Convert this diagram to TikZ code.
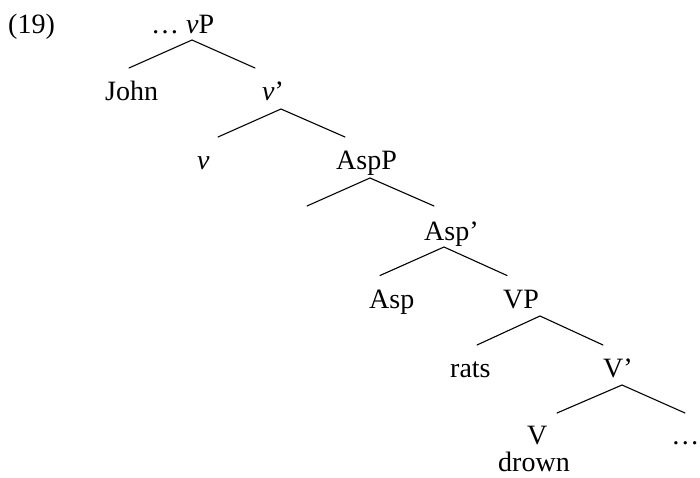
\documentclass[tikz,border=0pt]{standalone}
\usepackage{fontspec}
\setmainfont{Liberation Serif}
\begin{document}
\begin{tikzpicture}[x=1pt,y=-1pt,
  lbl/.style={inner sep=0pt,anchor=base west,font=\fontsize{28}{34}\selectfont},
  branch/.style={line width=1.1pt,line cap=round}]
\clip (0,0) rectangle (700,478);
\fill[white] (0,0) rectangle (700,478);
% labels
\node[lbl] (ex)    at (8,34)    {(19)};
\node[lbl] (vP)    at (151,34)  {… \textit{v}P};
\node[lbl] (john)  at (105,101) {John};
\node[lbl] (vbar)  at (262,101) {\textit{v}’};
\node[lbl] (v)     at (197,170) {\textit{v}};
\node[lbl] (AspP)  at (336,170) {AspP};
\node[lbl] (Aspbar) at (424,240.5) {Asp’};
\node[lbl] (Asp)   at (369,308) {Asp};
\node[lbl] (VP)    at (503,308) {VP};
\node[lbl] (rats)  at (450,377) {rats};
\node[lbl] (Vbar)  at (603,377) {V’};
\node[lbl] (V)     at (527,444) {V};
\node[lbl,anchor=base east] (dots) at (699.5,444) {…};
\node[lbl] (drown) at (498,471) {drown};
% branch points
\coordinate (t0) at (192,40);  \coordinate (l0) at (129,68);  \coordinate (r0) at (255,68);
\coordinate (t1) at (281,109); \coordinate (l1) at (218,137); \coordinate (r1) at (345,137);
\coordinate (t2) at (370,178); \coordinate (l2) at (307,206); \coordinate (r2) at (434,206);
\coordinate (t3) at (444,247); \coordinate (l3) at (380,275.5); \coordinate (r3) at (507,275.5);
\coordinate (t4) at (540,316); \coordinate (l4) at (477,345); \coordinate (r4) at (603,345);
\coordinate (t5) at (622,385); \coordinate (l5) at (557,413); \coordinate (r5) at (685,413);
% branches
\draw[branch] (l0) -- (t0) -- (r0);
\draw[branch] (l1) -- (t1) -- (r1);
\draw[branch] (l2) -- (t2) -- (r2);
\draw[branch] (l3) -- (t3) -- (r3);
\draw[branch] (l4) -- (t4) -- (r4);
\draw[branch] (l5) -- (t5) -- (r5);
\end{tikzpicture}
\end{document}
